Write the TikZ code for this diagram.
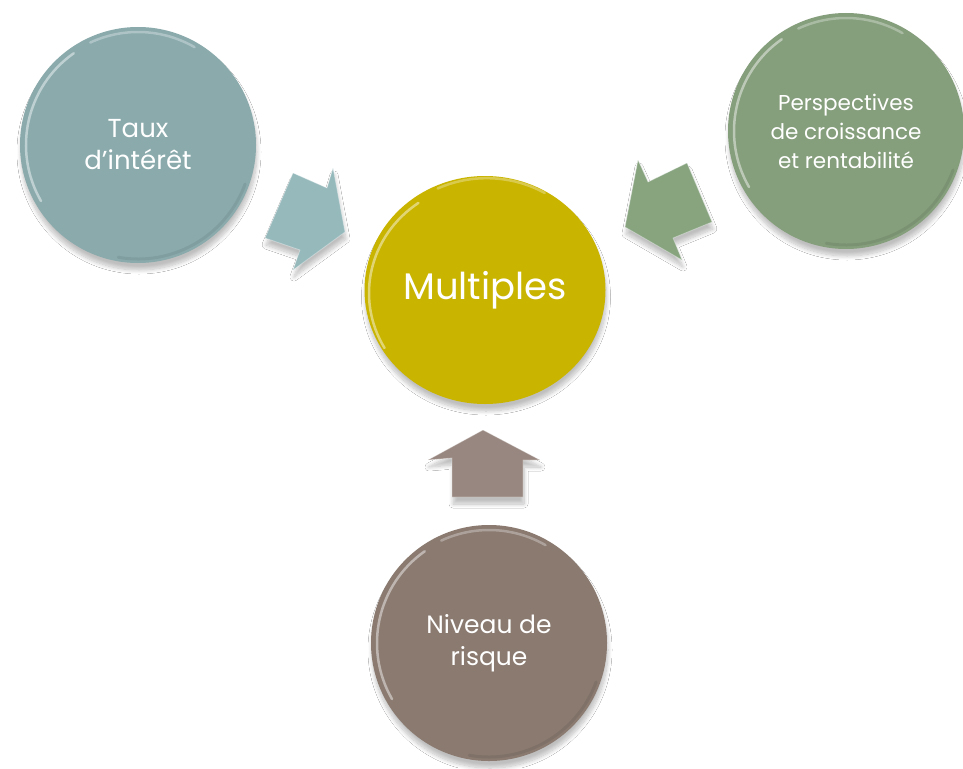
\documentclass[tikz,border=0pt]{standalone}
\usepackage{fontspec}
\setmainfont{Poppins}
\usetikzlibrary{shapes.geometric,shadows.blur}
\definecolor{cTeal}{HTML}{8AAAAC}
\definecolor{cGold}{HTML}{C9B400}
\definecolor{cGreen}{HTML}{859E7B}
\definecolor{cBrown}{HTML}{8A7A70}
\definecolor{aTeal}{HTML}{96B9BC}
\definecolor{aGreen}{HTML}{87A47F}
\definecolor{aBrown}{HTML}{988780}
\tikzset{
  shd/.style={blur shadow={shadow xshift=1pt, shadow yshift=-7pt, shadow blur steps=10, shadow blur radius=4pt, shadow opacity=25}},
  bubble/.style={circle, minimum size=236pt, inner sep=0pt, text=white, align=center, shd},
  rim/.style={white, opacity=0.45, line width=2.5pt, line cap=round},
  darkrim/.style={black, opacity=0.07, line width=3pt, line cap=round},
  blockarrow/.style={shd, draw=white, draw opacity=0.35, line width=0.8pt, line join=round},
}
\begin{document}
\begin{tikzpicture}[x=1pt, y=-1pt]
\useasboundingbox (0,0) rectangle (963,768);
\fill[white] (0,0) rectangle (963,768);

% circles
\node[bubble, fill=cTeal, font=\fontsize{26}{32}\selectfont] (taux) at (138,145) {Taux\\d’intérêt};
\node[bubble, fill=cGreen, font=\fontsize{21.5}{29}\selectfont] (persp) at (846,131) {Perspectives\\de croissance\\et rentabilité};
\node[bubble, fill=cBrown, font=\fontsize{25}{32}\selectfont] (risque) at (489,643) {Niveau de\\risque};
\node[ellipse, minimum width=241pt, minimum height=228pt, inner sep=0pt, fill=cGold, text=white, shd, font=\fontsize{37}{40}\selectfont] (mult) at (485,290) {Multiples};

% bevel highlights
\foreach \c in {taux,persp,risque}{
  \draw[rim] (\c.center) ++(150:112) arc[start angle=150, end angle=235, radius=112];
  \draw[rim, opacity=0.3] (\c.center) ++(245:113) arc[start angle=245, end angle=300, radius=113];
  \draw[darkrim] (\c.center) ++(20:114) arc[start angle=20, end angle=100, radius=114];
}
\draw[rim] (mult.center) ++(150:116) arc[start angle=150, end angle=235, x radius=116, y radius=110];
\draw[rim, opacity=0.3] (mult.center) ++(245:112) arc[start angle=245, end angle=300, x radius=116, y radius=110];

% block arrows
\filldraw[blockarrow, fill=aTeal] (293,173) -- (327,188) -- (333,168) -- (345,232) -- (293,270) -- (300,250) -- (265,238) -- cycle;
\filldraw[blockarrow, fill=aGreen] (625,227) -- (638,160) -- (648,182) -- (687,163) -- (712,222) -- (673,238) -- (682,260) -- cycle;
\filldraw[blockarrow, fill=aBrown] (483,430) -- (540,460) -- (523,460) -- (523,497) -- (452,497) -- (452,458) -- (428,460) -- cycle;
\end{tikzpicture}
\end{document}
